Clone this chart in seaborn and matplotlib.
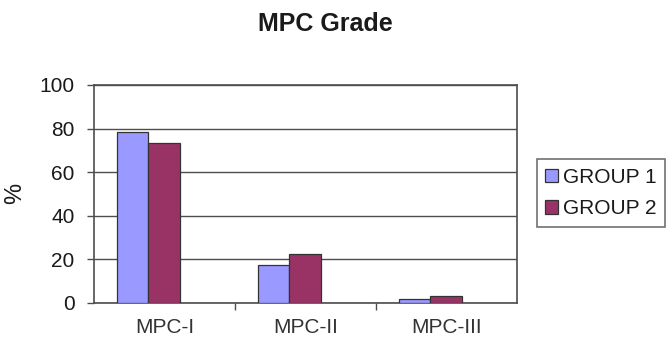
import matplotlib
matplotlib.use("Agg")
import matplotlib.pyplot as plt
import seaborn as sns
import pandas as pd

# Grade distribution by group (percent)
categories = ["MPC-I", "MPC-II", "MPC-III"]
groups = ["GROUP 1", "GROUP 2"]
group1_values = [78.6, 17.5, 2.0]
group2_values = [73.3, 22.5, 3.2]
y_ticks = [0, 20, 40, 60, 80, 100]

df = pd.DataFrame({
    "Grade": categories * 2,
    "Group": [groups[0]] * 3 + [groups[1]] * 3,
    "Percent": group1_values + group2_values,
})

sns.set_style("white")
plt.rcParams["font.family"] = ["Liberation Sans", "DejaVu Sans"]

W, H = 667, 343
fig = plt.figure(figsize=(W / 100, H / 100), dpi=100)
ax = fig.add_axes([94 / W, 1 - 303 / H, (517 - 94) / W, (303 - 85) / H])

sns.barplot(
    data=df, x="Grade", y="Percent", hue="Group", order=categories,
    hue_order=groups, palette=["#9999FF", "#993366"], saturation=1,
    width=0.447, edgecolor="#333333", linewidth=0.9, ax=ax, zorder=3,
)

# y axis
ax.set_ylim(0, 100)
ax.set_yticks(y_ticks)
ax.yaxis.grid(True, color="#4d4d4d", linewidth=1.0, zorder=0)
ax.tick_params(axis="y", which="major", direction="out", length=5, width=1,
               color="#4d4d4d", pad=9, labelsize=15, labelcolor="#1a1a1a",
               left=True)
ax.set_ylabel("")

# x axis: labels at category centers, tick marks between categories
ax.set_xlim(-0.385, 2.615)
ax.set_xticks([0.115, 1.115, 2.115])
ax.set_xticklabels(categories, fontsize=15, color="#333333")
ax.set_xticks([0.615, 1.615], minor=True)
ax.tick_params(axis="x", which="major", length=0, pad=11)
ax.tick_params(axis="x", which="minor", direction="out", length=5, width=1,
               color="#4d4d4d", bottom=True)
ax.set_xlabel("")

for side in ["left", "right", "top", "bottom"]:
    ax.spines[side].set_visible(True)
    ax.spines[side].set_color("#4d4d4d")
    ax.spines[side].set_linewidth(1.2)

handles, labels = ax.get_legend_handles_labels()
ax.get_legend().remove()
leg = fig.legend(
    handles, labels, loc="center left",
    bbox_to_anchor=(537 / W, 1 - 193 / H), fontsize=15,
    frameon=True, fancybox=False, edgecolor="#4d4d4d",
    handlelength=0.6, handleheight=0.6, handletextpad=0.25,
    labelspacing=0.6, borderpad=0.4, borderaxespad=0,
)
leg.get_frame().set_linewidth(1.2)
for t in leg.get_texts():
    t.set_color("#1a1a1a")

fig.text(325 / W, 1 - 24 / H, "MPC Grade", ha="center", va="center",
         fontsize=18, fontweight="bold", color="#1a1a1a")
fig.text(15 / W, 1 - 193 / H, "%", ha="center", va="center",
         rotation=90, fontsize=17, color="#1a1a1a")

fig.savefig("out.png", dpi=100, facecolor="white")
